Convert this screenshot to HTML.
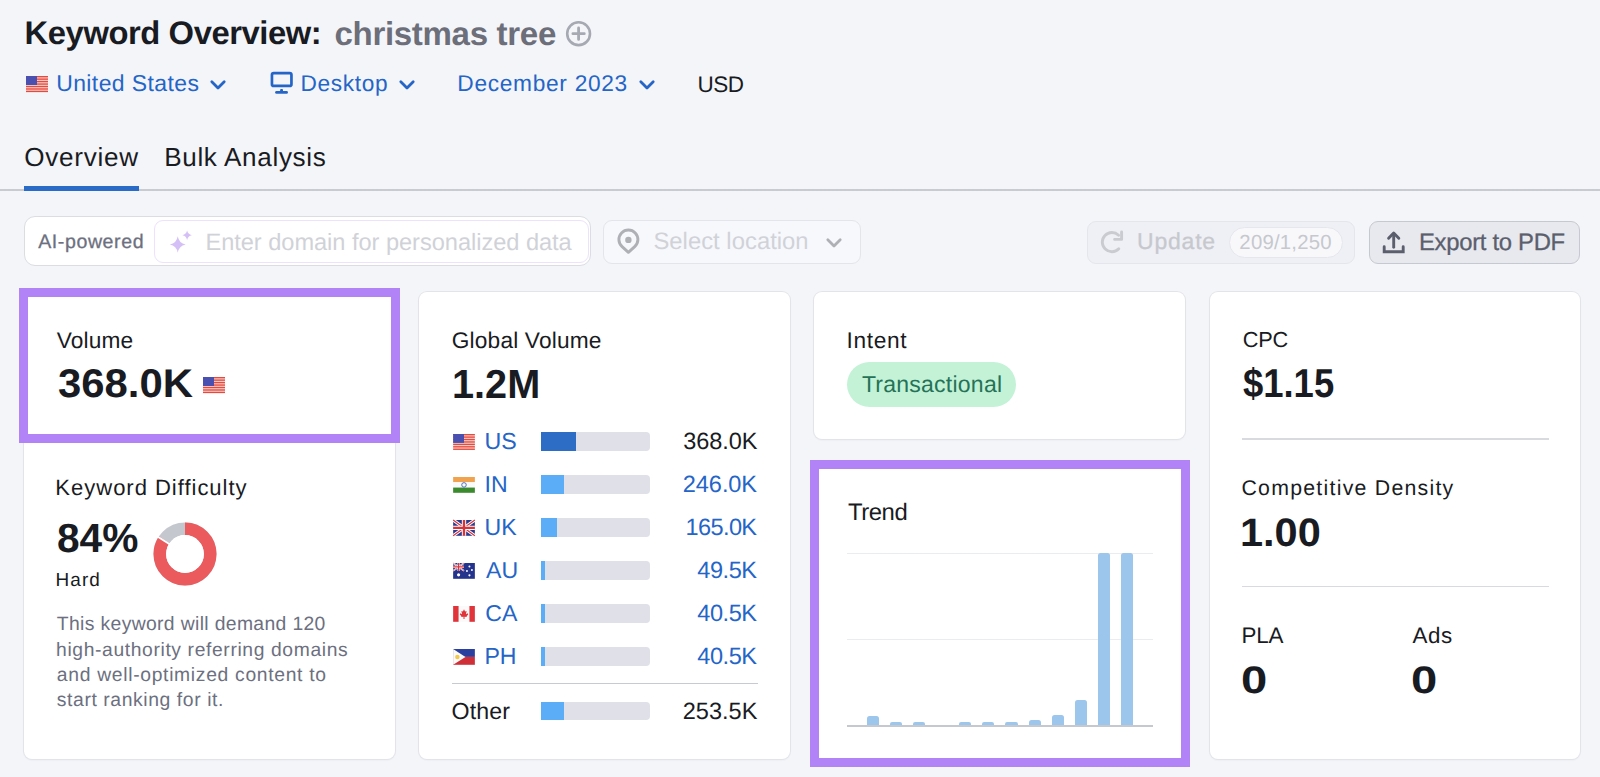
<!DOCTYPE html>
<html><head><meta charset="utf-8"><title>Keyword Overview</title>
<style>
html,body{margin:0;padding:0}
body{width:1600px;height:777px;overflow:hidden;background:#f4f5f9;position:relative;font-family:"Liberation Sans",sans-serif;text-rendering:geometricPrecision}
.tx{position:absolute;line-height:1;white-space:nowrap}
.g{position:absolute;left:0;top:0;width:1600px;height:777px}
.abs{position:absolute;box-sizing:border-box}
.card{position:absolute;background:#fff;border-radius:8px;box-shadow:0 0 0 1px #e3e4e9,0 1px 2px rgba(30,35,60,.08)}
.pbox{position:absolute;box-sizing:border-box;border:9px solid #b283f6}
svg{position:absolute;overflow:visible}
</style></head><body>
<div class="g">
<svg style="left:565px;top:20px" width="28" height="28" viewBox="0 0 28 28"><circle cx="13.6" cy="13.7" r="11.4" fill="none" stroke="#a6a9b2" stroke-width="2.6"/><path d="M13.6 8v11.4M7.9 13.7h11.4" stroke="#a6a9b2" stroke-width="2.8" stroke-linecap="round"/></svg>
<svg style="left:26px;top:76px" width="22" height="16" viewBox="0 0 22 16"><rect width="22" height="16" fill="#f6d6d2"/><g fill="#e8493d"><rect y="0.00" width="22" height="1.35"/><rect y="2.46" width="22" height="1.35"/><rect y="4.92" width="22" height="1.35"/><rect y="7.39" width="22" height="1.35"/><rect y="9.85" width="22" height="1.35"/><rect y="12.31" width="22" height="1.35"/><rect y="14.77" width="22" height="1.35"/></g><rect width="11" height="9" fill="#4a50b0"/></svg>
<svg style="left:210px;top:80px" width="16" height="10" viewBox="0 0 16 10"><path d="M1.8 1.8L8 8l6.2-6.2" fill="none" stroke="#2465c7" stroke-width="2.8" stroke-linecap="round" stroke-linejoin="round"/></svg>
<svg style="left:266px;top:68px" width="32" height="30" viewBox="0 0 32 30"><rect x="5.95" y="5.05" width="19.5" height="12.9" rx="1.8" fill="none" stroke="#2465c7" stroke-width="2.7"/><rect x="14.1" y="21" width="2.9" height="2.8" rx="1" fill="#2465c7"/><path d="M10.5 24.4H20.6" stroke="#2465c7" stroke-width="2.7" stroke-linecap="round"/></svg>
<svg style="left:399px;top:80px" width="16" height="10" viewBox="0 0 16 10"><path d="M1.8 1.8L8 8l6.2-6.2" fill="none" stroke="#2465c7" stroke-width="2.8" stroke-linecap="round" stroke-linejoin="round"/></svg>
<svg style="left:639px;top:80px" width="16" height="10" viewBox="0 0 16 10"><path d="M1.8 1.8L8 8l6.2-6.2" fill="none" stroke="#2465c7" stroke-width="2.8" stroke-linecap="round" stroke-linejoin="round"/></svg>
<div class="abs" style="left:0;top:189px;width:1600px;height:2px;background:#c9cbd2"></div>
<div class="abs" style="left:24px;top:186px;width:115px;height:5px;background:#2a6bc8"></div>
<div class="abs" style="left:24.3px;top:216.3px;width:566.7px;height:49.7px;border:1.7px solid #dcdde3;border-radius:11px;background:#fff"></div>
<div class="abs" style="left:154px;top:220px;width:435px;height:43px;border:1.5px solid #ece2fc;border-radius:9px;background:#fff"></div>
<svg style="left:166px;top:228px" width="30" height="30" viewBox="0 0 30 30"><path d="M11.75 8.20 Q13.00 15.25 19.65 16.50 Q13.00 17.75 11.75 24.80 Q10.50 17.75 3.85 16.50 Q10.50 15.25 11.75 8.20Z" fill="#d4c0f6"/><path d="M21.10 2.50 Q21.90 6.40 25.80 7.20 Q21.90 8.00 21.10 11.90 Q20.30 8.00 16.40 7.20 Q20.30 6.40 21.10 2.50Z" fill="#d4c0f6"/></svg>
<div class="abs" style="left:602.5px;top:220px;width:258px;height:43.5px;border:1.5px solid #e4e5ea;border-radius:9px;background:#f7f8fc"></div>
<svg style="left:612px;top:225px" width="35" height="35" viewBox="0 0 35 35"><path d="M16.4 27.3L10.1 21.6A9.5 9.5 0 1 1 22.7 21.6Z" fill="none" stroke="#aeb0b6" stroke-width="2.9" stroke-linejoin="round"/><circle cx="16.4" cy="14.9" r="3.2" fill="#aeb0b6"/></svg>
<svg style="left:826px;top:238px" width="16" height="10" viewBox="0 0 16 10"><path d="M1.8 1.8L8 8l6.2-6.2" fill="none" stroke="#aeb0b6" stroke-width="2.8" stroke-linecap="round" stroke-linejoin="round"/></svg>
<div class="abs" style="left:1087px;top:220.5px;width:268px;height:43.5px;border:1.5px solid #e5e6eb;border-radius:9px;background:#eff0f5"></div>
<div class="abs" style="left:1228.5px;top:227px;width:114px;height:30.5px;border:1.5px solid #e6e7ec;border-radius:16px;background:#f8f8fb"></div>
<svg style="left:1095px;top:225px" width="35" height="35" viewBox="0 0 35 35"><path d="M23.57 10.2 A9.6 9.6 0 1 0 23.8 23.77" fill="none" stroke="#c9cbd1" stroke-width="2.9" stroke-linecap="round"/><path d="M26.6 6.9 V14.4 H19.6" fill="none" stroke="#c9cbd1" stroke-width="2.9" stroke-linecap="round" stroke-linejoin="round"/></svg>
<div class="abs" style="left:1368.5px;top:220.5px;width:211.5px;height:43.5px;border:1.5px solid #c7c9d0;border-radius:9px;background:#e8e9ef"></div>
<svg style="left:1377px;top:225px" width="35" height="35" viewBox="0 0 35 35"><path d="M7.2 21.8V26.8H26.2V21.8" fill="none" stroke="#5b5f6d" stroke-width="2.9" stroke-linecap="round"/><path d="M16.7 10V22.3" stroke="#5b5f6d" stroke-width="2.9" stroke-linecap="round"/><path d="M11.6 13.2L16.7 8L21.8 13.2" fill="none" stroke="#5b5f6d" stroke-width="2.9" stroke-linecap="round" stroke-linejoin="round"/></svg>
<div class="card" style="left:24px;top:292px;width:371px;height:467px"></div>
<div class="card" style="left:419px;top:292px;width:371px;height:467px"></div>
<div class="card" style="left:814px;top:292px;width:371px;height:146.5px"></div>
<div class="card" style="left:814px;top:463px;width:371px;height:296px"></div>
<div class="card" style="left:1209.5px;top:292px;width:370.5px;height:467px"></div>
<svg style="left:203px;top:377px" width="22" height="16" viewBox="0 0 22 16"><rect width="22" height="16" fill="#f6d6d2"/><g fill="#e8493d"><rect y="0.00" width="22" height="1.35"/><rect y="2.46" width="22" height="1.35"/><rect y="4.92" width="22" height="1.35"/><rect y="7.39" width="22" height="1.35"/><rect y="9.85" width="22" height="1.35"/><rect y="12.31" width="22" height="1.35"/><rect y="14.77" width="22" height="1.35"/></g><rect width="11" height="9" fill="#4a50b0"/></svg>
<svg style="left:150px;top:519px" width="70" height="70" viewBox="0 0 70 70">
<circle cx="35" cy="35" r="25.2" fill="none" stroke="#c4c7ce" stroke-width="12.6"/>
<circle cx="35" cy="35" r="25.2" fill="none" stroke="#eb5a5d" stroke-width="12.6" stroke-dasharray="133 200" transform="rotate(-90 35 35)"/>
<path d="M35 35 L6.29 16.78" stroke="#fff" stroke-width="2"/>
<circle cx="35" cy="35" r="18.9" fill="#fff"/>
</svg>
<svg style="left:453px;top:434.2px" width="22" height="15.8" viewBox="0 0 22 16"><rect width="22" height="16" fill="#f6d6d2"/><g fill="#e8493d"><rect y="0.00" width="22" height="1.35"/><rect y="2.46" width="22" height="1.35"/><rect y="4.92" width="22" height="1.35"/><rect y="7.39" width="22" height="1.35"/><rect y="9.85" width="22" height="1.35"/><rect y="12.31" width="22" height="1.35"/><rect y="14.77" width="22" height="1.35"/></g><rect width="11" height="9" fill="#4a50b0"/></svg>
<div class="abs" style="left:540.5px;top:432px;width:109.5px;height:18.6px;border-radius:0 4px 4px 0;background:#dfe0e8"></div>
<div class="abs" style="left:540.5px;top:432px;width:35px;height:18.6px;background:#2e6dc6"></div>
<svg style="left:453px;top:477.2px" width="22" height="15.8" viewBox="0 0 22 16"><rect width="22" height="5.3" fill="#f0a24e"/><rect y="5.3" width="22" height="5.4" fill="#fafafa"/><rect y="10.7" width="22" height="5.3" fill="#3b8a2e"/><circle cx="11" cy="8" r="2.3" fill="none" stroke="#4060b8" stroke-width="0.9"/></svg>
<div class="abs" style="left:540.5px;top:475px;width:109.5px;height:18.6px;border-radius:0 4px 4px 0;background:#dfe0e8"></div>
<div class="abs" style="left:540.5px;top:475px;width:23px;height:18.6px;background:#5aadf6"></div>
<svg style="left:453px;top:520.2px" width="22" height="15.8" viewBox="0 0 22 16"><rect width="22" height="16" fill="#2b3a8c"/><path d="M0 0L22 16M22 0L0 16" stroke="#fff" stroke-width="3.2"/><path d="M0 0L22 16M22 0L0 16" stroke="#d9323a" stroke-width="1.2"/><path d="M11 0V16M0 8H22" stroke="#fff" stroke-width="4.4"/><path d="M11 0V16M0 8H22" stroke="#d9323a" stroke-width="2.4"/></svg>
<div class="abs" style="left:540.5px;top:518px;width:109.5px;height:18.6px;border-radius:0 4px 4px 0;background:#dfe0e8"></div>
<div class="abs" style="left:540.5px;top:518px;width:16px;height:18.6px;background:#5aadf6"></div>
<svg style="left:453px;top:563.2px" width="22" height="15.8" viewBox="0 0 22 16"><rect width="22" height="16" fill="#24338c"/><g transform="scale(0.5)"><path d="M0 0L22 16M22 0L0 16" stroke="#fff" stroke-width="3.2"/><path d="M0 0L22 16M22 0L0 16" stroke="#d9323a" stroke-width="1.2"/><path d="M11 0V16M0 8H22" stroke="#fff" stroke-width="4.4"/><path d="M11 0V16M0 8H22" stroke="#d9323a" stroke-width="2.4"/></g><circle cx="5.5" cy="12" r="1.6" fill="#fff"/><circle cx="16.5" cy="3.5" r="1" fill="#fff"/><circle cx="19" cy="7" r="1" fill="#fff"/><circle cx="14" cy="8" r="1" fill="#fff"/><circle cx="16.5" cy="12.5" r="1.1" fill="#fff"/></svg>
<div class="abs" style="left:540.5px;top:561px;width:109.5px;height:18.6px;border-radius:0 4px 4px 0;background:#dfe0e8"></div>
<div class="abs" style="left:540.5px;top:561px;width:4.7px;height:18.6px;background:#5aadf6"></div>
<svg style="left:453px;top:606.2px" width="22" height="15.8" viewBox="0 0 22 16"><rect width="22" height="16" fill="#fafafa"/><rect width="5.5" height="16" fill="#e0343a"/><rect x="16.5" width="5.5" height="16" fill="#e0343a"/><path d="M11 3.2L12.1 5.6L13.6 5.1L13 8.4L14.9 7.3L15.2 8.6L13.6 10.4L13.9 11.2L11.5 10.9V13.2H10.5V10.9L8.1 11.2L8.4 10.4L6.8 8.6L7.1 7.3L9 8.4L8.4 5.1L9.9 5.6Z" fill="#e0343a"/></svg>
<div class="abs" style="left:540.5px;top:604px;width:109.5px;height:18.6px;border-radius:0 4px 4px 0;background:#dfe0e8"></div>
<div class="abs" style="left:540.5px;top:604px;width:4.7px;height:18.6px;background:#5aadf6"></div>
<svg style="left:453px;top:649.2px" width="22" height="15.8" viewBox="0 0 22 16"><rect width="22" height="8" fill="#2a3f9e"/><rect y="8" width="22" height="8" fill="#cf2f37"/><path d="M0 0L12.5 8L0 16Z" fill="#fafafa"/><circle cx="4.3" cy="8" r="2.3" fill="#f2c94a"/></svg>
<div class="abs" style="left:540.5px;top:647px;width:109.5px;height:18.6px;border-radius:0 4px 4px 0;background:#dfe0e8"></div>
<div class="abs" style="left:540.5px;top:647px;width:4.7px;height:18.6px;background:#5aadf6"></div>
<div class="abs" style="left:540.5px;top:701.5px;width:109.5px;height:18.6px;border-radius:0 4px 4px 0;background:#dfe0e8"></div>
<div class="abs" style="left:540.5px;top:701.5px;width:23.5px;height:18.6px;background:#5aadf6"></div>
<div class="abs" style="left:452px;top:682.5px;width:306px;height:1.5px;background:#c8cad1"></div>
<div class="abs" style="left:847px;top:362px;width:169px;height:44.5px;border-radius:23px;background:#c3f2d7"></div>
<div class="abs" style="left:847px;top:552.5px;width:306px;height:1px;background:#ebecf0"></div>
<div class="abs" style="left:847px;top:638.5px;width:306px;height:1px;background:#ebecf0"></div>
<div class="abs" style="left:866.8px;top:715.5px;width:12.2px;height:10.5px;border-radius:2.5px 2.5px 0 0;background:#9cc6ec"></div>
<div class="abs" style="left:889.9px;top:721.8px;width:12.2px;height:4.2px;border-radius:2.1000000000000227px 2.1000000000000227px 0 0;background:#9cc6ec"></div>
<div class="abs" style="left:913.0px;top:721.8px;width:12.2px;height:4.2px;border-radius:2.1000000000000227px 2.1000000000000227px 0 0;background:#9cc6ec"></div>
<div class="abs" style="left:959.2px;top:721.8px;width:12.2px;height:4.2px;border-radius:2.1000000000000227px 2.1000000000000227px 0 0;background:#9cc6ec"></div>
<div class="abs" style="left:982.3px;top:721.8px;width:12.2px;height:4.2px;border-radius:2.1000000000000227px 2.1000000000000227px 0 0;background:#9cc6ec"></div>
<div class="abs" style="left:1005.4px;top:721.7px;width:12.2px;height:4.3px;border-radius:2.1499999999999773px 2.1499999999999773px 0 0;background:#9cc6ec"></div>
<div class="abs" style="left:1028.5px;top:720.2px;width:12.2px;height:5.8px;border-radius:2.5px 2.5px 0 0;background:#9cc6ec"></div>
<div class="abs" style="left:1051.6px;top:715.3px;width:12.2px;height:10.7px;border-radius:2.5px 2.5px 0 0;background:#9cc6ec"></div>
<div class="abs" style="left:1074.7px;top:699.7px;width:12.2px;height:26.3px;border-radius:2.5px 2.5px 0 0;background:#9cc6ec"></div>
<div class="abs" style="left:1097.8px;top:553px;width:12.2px;height:173.0px;border-radius:2.5px 2.5px 0 0;background:#9cc6ec"></div>
<div class="abs" style="left:1120.9px;top:553px;width:12.2px;height:173.0px;border-radius:2.5px 2.5px 0 0;background:#9cc6ec"></div>
<div class="abs" style="left:847px;top:725.3px;width:306px;height:1.7px;background:#c6c8cf"></div>
<div class="abs" style="left:1242px;top:438px;width:307px;height:1.8px;background:#d9dae0"></div>
<div class="abs" style="left:1242px;top:585.6px;width:307px;height:1.8px;background:#d9dae0"></div>
<div class="pbox" style="left:19px;top:288px;width:381px;height:155px"></div>
<div class="pbox" style="left:810px;top:460px;width:380px;height:307px"></div>
</div>
<div class="tx" id="t_title1" style="top:17.47px;font-size:32.76px;font-weight:700;color:#191b23;letter-spacing:-0.425px;left:24.61px">Keyword Overview:</div>
<div class="tx" id="t_title2" style="top:18.41px;font-size:33.07px;font-weight:700;color:#6c6e79;letter-spacing:-0.323px;left:334.44px">christmas tree</div>
<div class="tx" id="t_us" style="top:72.21px;font-size:22.97px;font-weight:400;color:#2465c7;letter-spacing:0.400px;left:56.19px">United States</div>
<div class="tx" id="t_desk" style="top:71.72px;font-size:22.66px;font-weight:400;color:#2465c7;letter-spacing:0.667px;left:300.41px">Desktop</div>
<div class="tx" id="t_dec" style="top:71.69px;font-size:22.71px;font-weight:400;color:#2465c7;letter-spacing:0.700px;left:457.31px">December 2023</div>
<div class="tx" id="t_usd" style="top:74.44px;font-size:22.51px;font-weight:400;color:#191b23;letter-spacing:-0.400px;left:697.42px">USD</div>
<div class="tx" id="t_ov" style="top:143.91px;font-size:26.09px;font-weight:400;color:#191b23;letter-spacing:0.743px;left:24.27px">Overview</div>
<div class="tx" id="t_bulk" style="top:143.91px;font-size:26.09px;font-weight:400;color:#191b23;letter-spacing:0.667px;left:164.17px">Bulk Analysis</div>
<div class="tx" id="t_ai" style="top:233.40px;font-size:19.59px;font-weight:400;color:#6c7080;letter-spacing:0.578px;-webkit-text-stroke:0.3px #6c7080;left:38.23px">AI-powered</div>
<div class="tx" id="t_enter" style="top:232.01px;font-size:23.62px;font-weight:400;color:#d0d2d8;letter-spacing:-0.036px;left:205.45px">Enter domain for personalized data</div>
<div class="tx" id="t_sel" style="top:230.28px;font-size:23.81px;font-weight:400;color:#d0d2d8;letter-spacing:0.029px;left:653.43px">Select location</div>
<div class="tx" id="t_upd" style="top:229.63px;font-size:23.00px;font-weight:400;color:#c6c8ce;letter-spacing:0.800px;-webkit-text-stroke:0.3px #c6c8ce;left:1136.99px">Update</div>
<div class="tx" id="t_cnt" style="top:232.63px;font-size:20.37px;font-weight:400;color:#c6c8ce;letter-spacing:0.200px;left:1239.37px">209/1,250</div>
<div class="tx" id="t_exp" style="top:230.96px;font-size:23.85px;font-weight:400;color:#5b5f6d;letter-spacing:-0.300px;-webkit-text-stroke:0.3px #5b5f6d;left:1419.03px">Export to PDF</div>
<div class="tx" id="t_vol" style="top:329.39px;font-size:22.70px;font-weight:400;color:#191b23;letter-spacing:0.160px;left:56.71px">Volume</div>
<div class="tx" id="t_volnum" style="top:364.23px;font-size:40.01px;font-weight:700;color:#191b23;letter-spacing:0.000px;transform:scaleX(1.0467);transform-origin:0 0;left:57.50px">368.0K</div>
<div class="tx" id="t_kd" style="top:476.54px;font-size:22.05px;font-weight:400;color:#191b23;letter-spacing:0.965px;left:55.36px">Keyword Difficulty</div>
<div class="tx" id="t_kdnum" style="top:517.65px;font-size:40.58px;font-weight:700;color:#191b23;letter-spacing:0.000px;transform:scaleX(1.0021);transform-origin:0 0;left:56.56px">84%</div>
<div class="tx" id="t_hard" style="top:571.86px;font-size:18.94px;font-weight:400;color:#191b23;letter-spacing:1.067px;left:55.57px">Hard</div>
<div class="tx" id="t_d1" style="top:615.36px;font-size:19.33px;font-weight:400;color:#6c7080;letter-spacing:0.356px;left:56.85px">This keyword will demand 120</div>
<div class="tx" id="t_d2" style="top:641.07px;font-size:19.27px;font-weight:400;color:#6c7080;letter-spacing:0.632px;left:56.05px">high-authority referring domains</div>
<div class="tx" id="t_d3" style="top:666.46px;font-size:19.31px;font-weight:400;color:#6c7080;letter-spacing:0.686px;left:56.85px">and well-optimized content to</div>
<div class="tx" id="t_d4" style="top:691.36px;font-size:19.36px;font-weight:400;color:#6c7080;letter-spacing:0.580px;left:56.84px">start ranking for it.</div>
<div class="tx" id="t_gv" style="top:328.71px;font-size:22.70px;font-weight:400;color:#191b23;letter-spacing:0.167px;left:451.81px">Global Volume</div>
<div class="tx" id="t_gvnum" style="top:364.15px;font-size:40.58px;font-weight:700;color:#191b23;letter-spacing:0.000px;transform:scaleX(0.9775);transform-origin:0 0;left:451.86px">1.2M</div>
<div class="tx" id="t_r0" style="top:429.51px;font-size:23.19px;font-weight:400;color:#2465c7;letter-spacing:0.000px;left:484.48px">US</div>
<div class="tx" id="t_r1" style="top:472.56px;font-size:23.08px;font-weight:400;color:#2465c7;letter-spacing:0.000px;left:484.48px">IN</div>
<div class="tx" id="t_r2" style="top:515.55px;font-size:23.10px;font-weight:400;color:#2465c7;letter-spacing:0.000px;left:484.48px">UK</div>
<div class="tx" id="t_r3" style="top:558.56px;font-size:23.08px;font-weight:400;color:#2465c7;letter-spacing:0.000px;left:486.08px">AU</div>
<div class="tx" id="t_r4" style="top:601.56px;font-size:23.08px;font-weight:400;color:#2465c7;letter-spacing:0.000px;left:485.28px">CA</div>
<div class="tx" id="t_r5" style="top:644.55px;font-size:23.10px;font-weight:400;color:#2465c7;letter-spacing:0.000px;left:484.48px">PH</div>
<div class="tx" id="t_oth" style="top:700.09px;font-size:23.19px;font-weight:400;color:#191b23;letter-spacing:0.100px;left:451.58px">Other</div>
<div class="tx" id="t_v0" style="top:430.17px;font-size:23.53px;font-weight:400;color:#191b23;letter-spacing:-0.080px;left:683.35px">368.0K</div>
<div class="tx" id="t_v1" style="top:473.12px;font-size:23.54px;font-weight:400;color:#2465c7;letter-spacing:-0.080px;left:682.87px">246.0K</div>
<div class="tx" id="t_v2" style="top:516.12px;font-size:23.54px;font-weight:400;color:#2465c7;letter-spacing:-0.624px;left:685.59px">165.0K</div>
<div class="tx" id="t_v3" style="top:559.12px;font-size:23.54px;font-weight:400;color:#2465c7;letter-spacing:-0.440px;left:697.33px">49.5K</div>
<div class="tx" id="t_v4" style="top:602.12px;font-size:23.54px;font-weight:400;color:#2465c7;letter-spacing:-0.440px;left:697.33px">40.5K</div>
<div class="tx" id="t_v5" style="top:645.12px;font-size:23.54px;font-weight:400;color:#2465c7;letter-spacing:-0.440px;left:697.33px">40.5K</div>
<div class="tx" id="t_v6" style="top:699.82px;font-size:23.54px;font-weight:400;color:#191b23;letter-spacing:0.048px;left:682.63px">253.5K</div>
<div class="tx" id="t_intent" style="top:329.49px;font-size:22.70px;font-weight:400;color:#191b23;letter-spacing:0.640px;left:846.61px">Intent</div>
<div class="tx" id="t_trans" style="top:373.01px;font-size:23.04px;font-weight:400;color:#267257;letter-spacing:0.233px;left:861.89px">Transactional</div>
<div class="tx" id="t_trend" style="top:501.28px;font-size:23.85px;font-weight:400;color:#191b23;letter-spacing:-0.400px;left:847.93px">Trend</div>
<div class="tx" id="t_cpc" style="top:328.71px;font-size:21.74px;font-weight:400;color:#191b23;letter-spacing:-0.200px;left:1242.68px">CPC</div>
<div class="tx" id="t_cpcnum" style="top:363.14px;font-size:40.35px;font-weight:700;color:#191b23;letter-spacing:0.000px;transform:scaleX(0.9030);transform-origin:0 0;left:1242.78px">$1.15</div>
<div class="tx" id="t_cd" style="top:478.38px;font-size:21.30px;font-weight:400;color:#191b23;letter-spacing:1.244px;left:1241.51px">Competitive Density</div>
<div class="tx" id="t_cdnum" style="top:513.63px;font-size:39.77px;font-weight:700;color:#191b23;letter-spacing:0.000px;transform:scaleX(1.0437);transform-origin:0 0;left:1240.32px">1.00</div>
<div class="tx" id="t_pla" style="top:625.47px;font-size:22.40px;font-weight:400;color:#191b23;letter-spacing:-0.200px;left:1241.43px">PLA</div>
<div class="tx" id="t_ads" style="top:625.48px;font-size:22.38px;font-weight:400;color:#191b23;letter-spacing:0.600px;left:1412.43px">Ads</div>
<div class="tx" id="t_pla0" style="top:662.18px;font-size:38.29px;font-weight:700;color:#191b23;letter-spacing:0.000px;transform:scaleX(1.2335);transform-origin:0 0;left:1241.46px">0</div>
<div class="tx" id="t_ads0" style="top:662.18px;font-size:38.29px;font-weight:700;color:#191b23;letter-spacing:0.000px;transform:scaleX(1.2331);transform-origin:0 0;left:1410.52px">0</div>
</body></html>
